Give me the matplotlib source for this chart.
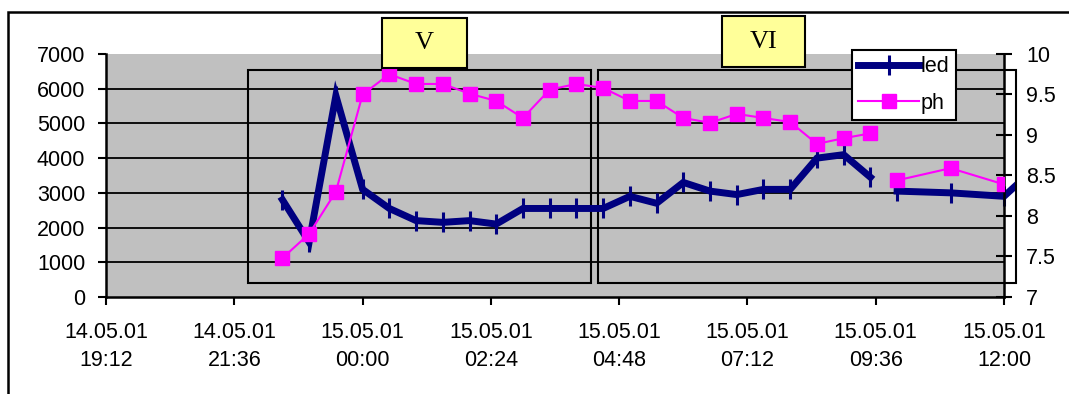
import datetime as dt
import numpy as np
import matplotlib
matplotlib.use("Agg")
import matplotlib.pyplot as plt
import matplotlib.dates as mdates
from matplotlib.patches import Rectangle

# --- DATA ---
TIMES = ["14.05.01 22:30", "14.05.01 23:00", "14.05.01 23:30", "15.05.01 00:00",
         "15.05.01 00:30", "15.05.01 01:00", "15.05.01 01:30", "15.05.01 02:00",
         "15.05.01 02:30", "15.05.01 03:00", "15.05.01 03:30", "15.05.01 04:00",
         "15.05.01 04:30", "15.05.01 05:00", "15.05.01 05:30", "15.05.01 06:00",
         "15.05.01 06:30", "15.05.01 07:00", "15.05.01 07:30", "15.05.01 08:00",
         "15.05.01 08:30", "15.05.01 09:00", "15.05.01 09:30", "15.05.01 09:45",
         "15.05.01 10:00", "15.05.01 11:00", "15.05.01 12:00", "15.05.01 12:30"]

LED = [2800, 1580, 5800, 3100, 2550, 2200, 2150, 2200, 2100, 2550, 2550, 2550,
       2550, 2900, 2700, 3300, 3050, 2950, 3100, 3100, 4000, 4100, 3450, np.nan,
       3050, 3000, 2900, 3600]

PH = [7.48, 7.78, 8.30, 9.50, 9.75, 9.63, 9.63, 9.51, 9.42, 9.21, 9.56, 9.63,
      9.58, 9.42, 9.42, 9.21, 9.15, 9.26, 9.21, 9.16, 8.89, 8.96, 9.02, np.nan,
      8.44, 8.59, 8.39, np.nan]

X_START = "14.05.01 19:12"
X_END = "15.05.01 12:00"
LED_TICKS = [0, 1000, 2000, 3000, 4000, 5000, 6000, 7000]
PH_TICKS = [7, 7.5, 8, 8.5, 9, 9.5, 10]
PH_LABELS = ["7", "7.5", "8", "8.5", "9", "9.5", "10"]

FMT = "%d.%m.%y %H:%M"
t = [dt.datetime.strptime(s, FMT) for s in TIMES]
t0 = dt.datetime.strptime(X_START, FMT)
t1 = dt.datetime.strptime(X_END, FMT)

plt.rcParams['font.family'] = ['Liberation Sans', 'DejaVu Sans']
FS = 15.5

fig = plt.figure(figsize=(10.69, 3.94), dpi=100)
ax = fig.add_axes([0.0992, 0.2462, 0.8400, 0.6168])
ax2 = ax.twinx()

ax.set_facecolor("#C0C0C0")
ax2.patch.set_visible(False)

# horizontal grid (no line on the top edge)
for v in LED_TICKS[1:-1]:
    ax.axhline(v, color="black", lw=1.3, zorder=1)

led_line, = ax.plot(t, LED, color="#000080", lw=5, marker="|", markersize=15,
                    markeredgewidth=2.2, solid_joinstyle="miter", label="led", zorder=3)
# the series runs a little past the right edge
led_line.set_clip_path(Rectangle((0, 0), 1.012, 1, transform=ax.transAxes))

ph_line, = ax2.plot(t, PH, color="#FF00FF", lw=1.5, marker="s", markersize=10,
                    label="ph", zorder=3)

ax.set_xlim(t0, t1)
ax.set_ylim(0, 7000)
ax2.set_ylim(7, 10)

# x ticks every 2:24
ticks = [t0 + k * dt.timedelta(hours=2.4) for k in range(8)]
ax.set_xticks(ticks)
ax.xaxis.set_major_formatter(mdates.DateFormatter("%d.%m.%y\n%H:%M"))
for lbl in ax.get_xticklabels():
    lbl.set_linespacing(1.45)

ax.set_yticks(LED_TICKS)
ax2.set_yticks(PH_TICKS)
ax2.set_yticklabels(PH_LABELS)

ax.tick_params(axis="x", direction="out", length=6, width=1.5, pad=12, labelsize=FS)
ax.tick_params(axis="y", direction="out", length=6, width=1.5, pad=9, labelsize=FS)
ax2.tick_params(axis="y", direction="inout", length=12, width=1.5, pad=10, labelsize=FS)

for a in (ax, ax2):
    a.spines["top"].set_visible(False)
    for s in ("left", "right", "bottom"):
        a.spines[s].set_linewidth(1.8)
ax.spines["right"].set_visible(False)
ax2.spines["left"].set_visible(False)
ax2.spines["bottom"].set_visible(False)

# section frames
for x0, x1 in [(0.1581, 0.5401), (0.5479, 1.0134)]:
    ax.add_patch(Rectangle((x0, 0.0576), x1 - x0, 0.934 - 0.0576, transform=ax.transAxes,
                           fill=False, edgecolor="black", lw=1.5, clip_on=False, zorder=2))

# section labels
for x0, y0, w, h, txt in [(0.3073, 0.942, 0.0947, 0.206, "V"),
                          (0.686, 0.9465, 0.0924, 0.2095, "VI")]:
    ax2.add_patch(Rectangle((x0, y0), w, h, transform=ax2.transAxes, facecolor="#FFFF99",
                            edgecolor="black", lw=1.5, clip_on=False, zorder=5))
    ax2.text(x0 + w / 2, y0 + h / 2, txt, transform=ax2.transAxes, ha="center", va="center",
             fontsize=19, family="Liberation Serif", zorder=6)

leg = ax2.legend(handles=[led_line, ph_line], loc="upper left",
                 bbox_to_anchor=(852 / 1069, 1 - 50 / 394), bbox_transform=fig.transFigure,
                 fontsize=FS, frameon=True, fancybox=False, framealpha=1, edgecolor="black",
                 handlelength=2.8, handletextpad=0.1, labelspacing=0.7, borderpad=0.3,
                 borderaxespad=0)
leg.get_frame().set_linewidth(1.5)
leg.set_zorder(10)

# outer chart frame
fig.add_artist(Rectangle((8 / 1069, -0.2), 1.2, 1.2 - 12 / 394, transform=fig.transFigure,
                         fill=False, edgecolor="black", lw=1.8))

fig.savefig("out.png", dpi=100)
